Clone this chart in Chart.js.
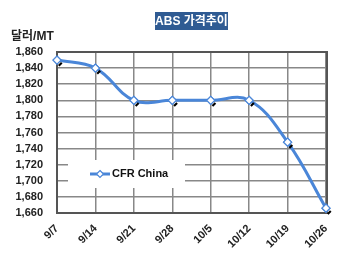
<!DOCTYPE html>
<html>
<head>
<meta charset="utf-8">
<script src="https://cdn.jsdelivr.net/npm/chart.js@4"></script>
<style>
  body { margin: 0; background: #fff; }
  .wrap { position: relative; width: 350px; height: 261px; }
  .title {
    position: absolute; left: 155px; top: 12px; width: 73px; height: 18px;
    background: #2f5b93; color: #fff; font: bold 12px "Liberation Sans", "Noto Sans CJK KR", sans-serif;
    text-align: center; line-height: 18px;
  }
  .unit {
    position: absolute; left: 11px; top: 26px;
    font: bold 12px "Liberation Sans", "Noto Sans CJK KR", sans-serif; color: #222;
  }
</style>
</head>
<body>
<div class="wrap">
  <canvas id="chart" width="350" height="261"></canvas>
  <div class="title">ABS 가격추이</div>
  <div class="unit">달러/MT</div>
</div>
<script>
const categories = ['9/7', '9/14', '9/21', '9/28', '10/5', '10/12', '10/19', '10/26'];
const cfrChina = [1850, 1840, 1800, 1800, 1800, 1800, 1748, 1666];
const seriesName = 'CFR China';
const lineColor = '#4a86d8';

// frame, boxed legend inside the plot, little black shadows under the diamonds
const extras = {
  id: 'extras',
  beforeDatasetsDraw(chart) {
    const ctx = chart.ctx;
    const a = chart.chartArea;
    ctx.save();
    ctx.strokeStyle = '#555';
    ctx.lineWidth = 2;
    ctx.strokeRect(a.left, a.top, a.right - a.left + 1, a.bottom - a.top);
    // legend box
    ctx.fillStyle = '#fff';
    ctx.fillRect(68, 160, 117, 28);
    ctx.strokeStyle = lineColor;
    ctx.lineWidth = 3;
    ctx.beginPath();
    ctx.moveTo(90, 174);
    ctx.lineTo(110, 174);
    ctx.stroke();
    ctx.fillStyle = '#fff';
    ctx.lineWidth = 1.2;
    ctx.beginPath();
    ctx.moveTo(100, 170.5); ctx.lineTo(103.5, 174); ctx.lineTo(100, 177.5); ctx.lineTo(96.5, 174);
    ctx.closePath();
    ctx.fill(); ctx.stroke();
    ctx.fillStyle = '#111';
    ctx.font = 'bold 11px "Liberation Sans", sans-serif';
    ctx.textBaseline = 'middle';
    ctx.fillText(seriesName, 112, 174);
    ctx.restore();
  },
  afterDatasetsDraw(chart) {
    const ctx = chart.ctx;
    const meta = chart.getDatasetMeta(0);
    ctx.save();
    ctx.fillStyle = '#000';
    meta.data.forEach(pt => {
      ctx.beginPath();
      ctx.moveTo(pt.x + 1, pt.y + 5);
      ctx.lineTo(pt.x + 4, pt.y + 2);
      ctx.lineTo(pt.x + 5.5, pt.y + 3.5);
      ctx.lineTo(pt.x + 2.5, pt.y + 6.5);
      ctx.closePath();
      ctx.fill();
    });
    ctx.restore();
    // redraw the markers on top of the shadows
    meta.data.forEach(pt => pt.draw(ctx, chart.chartArea));
  }
};

new Chart(document.getElementById('chart').getContext('2d'), {
  type: 'line',
  data: {
    labels: categories,
    datasets: [{
      label: seriesName,
      data: cfrChina,
      borderColor: lineColor,
      borderWidth: 3,
      tension: 0.4,
      pointStyle: 'rectRot',
      pointRadius: 4,
      pointBackgroundColor: '#fff',
      pointBorderColor: lineColor,
      pointBorderWidth: 1.2
    }]
  },
  options: {
    responsive: false,
    animation: false,
    layout: { padding: { top: 52, right: 24, left: 0, bottom: 0 } },
    plugins: { legend: { display: false }, tooltip: { enabled: false } },
    scales: {
      x: {
        offset: false,
        grid: { color: '#888', lineWidth: 1.5, drawTicks: false },
        border: { color: '#111', width: 2 },
        ticks: {
          color: '#222', maxRotation: 45, minRotation: 45, padding: 9, autoSkip: false,
          font: { family: '"Liberation Sans", sans-serif', size: 11, weight: 'bold' }
        },
        afterFit(scale) { scale.height = 48; }
      },
      y: {
        min: 1660, max: 1860,
        grid: { color: '#888', lineWidth: 1.5, drawTicks: false },
        border: { color: '#111', width: 2 },
        ticks: {
          stepSize: 20, color: '#222', padding: 14, autoSkip: false,
          font: { family: '"Liberation Sans", sans-serif', size: 11, weight: 'bold' },
          callback: v => v.toLocaleString('en-US')
        },
        afterFit(scale) { scale.width = 57; }
      }
    }
  },
  plugins: [extras]
});
</script>
</body>
</html>
